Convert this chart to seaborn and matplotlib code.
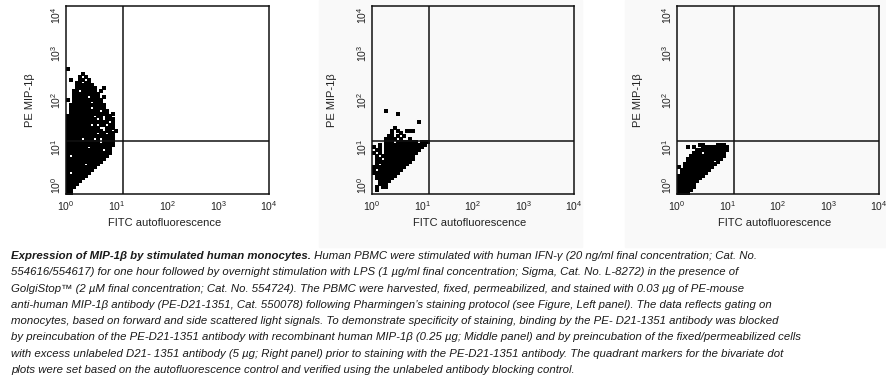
import pandas as pd
import seaborn as sns
import matplotlib.pyplot as plt
from matplotlib.patches import Rectangle

# dot plot occupancy: one char per 0.06 x 0.06 decade cell,
# first row = highest PE value, first column = 10^0 on the FITC axis
cell = 0.06

left_mask = [
    "#................",
    ".................",
    ".....#...........",
    "....#.#..........",
    ".#..##.#.........",
    "...##.##.........",
    "...######........",
    "...#######..#....",
    "..##.#####.#.....",
    "..#########......",
    "..#####.###.#....",
    "#.##########.....",
    "..######.###.....",
    ".############....",
    ".#######.####....",
    ".##########.##...",
    ".#############.#.",
    "#########.##.##..",
    "##########.#.###.",
    "##############.#.",
    "########.#.##.##.",
    "###########..###.",
    "############.##.#",
    "##########.##.##.",
    "################.",
    "#####.###.#.####.",
    "###########.####.",
    "################.",
    "#######.#######..",
    "############.##..",
    "###############..",
    "#.############...",
    "#############....",
    "############.....",
    "######.####......",
    "##########.......",
    "#########........",
    "#.######.........",
    "#######..........",
    "######...........",
    "#####............",
    "####.............",
    "###..............",
    "##...............",
    "##...............",
]

middle_mask = [
    "....#..............",
    "........#..........",
    "...................",
    "...................",
    "...............#...",
    "...................",
    ".......#...........",
    "......#.#..###.....",
    "......#..#.........",
    ".....##.#.#........",
    "....####.#..#......",
    "....###.#######.###",
    "..#.##############.",
    "#.#.#############..",
    ".##.############...",
    "#.#.###########....",
    ".#.###########.....",
    ".##.##########.....",
    ".############......",
    ".#.#########.......",
    "###########........",
    "#.########.........",
    "#########..........",
    ".#######...........",
    ".######............",
    "..####.............",
    "..###..............",
    ".#.##..............",
    ".#.................",
    "...................",
]

right_mask = [
    ".......##....###..",
    "...#.#..#########",
    "......###########",
    ".....###.#######.",
    "....############.",
    "...############..",
    "...#########.#...",
    "..###########....",
    "#.##########.....",
    ".##########......",
    ".#########.......",
    "#########........",
    "########.........",
    "#######..........",
    "######...........",
    "######...........",
    "#####............",
    "####.............",
]

gate = 10 ** 1.12  # quadrant marker, same on both axes
decades = [1, 10, 100, 1000, 10000]
decade_labels = [r'$\mathregular{10^{%d}}$' % i for i in range(5)]

x_label = 'FITC autofluorescence'
y_label = 'PE MIP-1β'

caption_bold = 'Expression of MIP-1β by stimulated human monocytes.'
caption_lines = [
    ' Human PBMC were stimulated with human IFN-γ (20 ng/ml final concentration; Cat. No.',
    '554616/554617) for one hour followed by overnight stimulation with LPS (1 µg/ml final concentration; Sigma, Cat. No. L-8272) in the presence of',
    'GolgiStop™ (2 µM final concentration; Cat. No. 554724). The PBMC were harvested, fixed, permeabilized, and stained with 0.03 µg of PE-mouse',
    'anti-human MIP-1β antibody (PE-D21-1351, Cat. 550078) following Pharmingen’s staining protocol (see Figure, Left panel). The data reflects gating on',
    'monocytes, based on forward and side scattered light signals. To demonstrate specificity of staining, binding by the PE- D21-1351 antibody was blocked',
    'by preincubation of the PE-D21-1351 antibody with recombinant human MIP-1β (0.25 µg; Middle panel) and by preincubation of the fixed/permeabilized cells',
    'with excess unlabeled D21- 1351 antibody (5 µg; Right panel) prior to staining with the PE-D21-1351 antibody. The quadrant markers for the bivariate dot',
    'plots were set based on the autofluorescence control and verified using the unlabeled antibody blocking control.',
]


def mask_to_events(mask):
    rows = []
    n = len(mask)
    for i, line in enumerate(mask):
        k = n - 1 - i
        for j, ch in enumerate(line):
            if ch == '#':
                rows.append({'fitc': 10 ** ((j + 0.5) * cell), 'pe': 10 ** ((k + 0.5) * cell)})
    return pd.DataFrame(rows)


sns.set_style('white')
plt.rcParams['font.family'] = ['Liberation Sans', 'DejaVu Sans']

W, H = 887, 381
fig = plt.figure(figsize=(W / 100, H / 100), dpi=100)

# the two right-hand plots sit on a faint grey backdrop in the original
for x0, x1 in [(319, 582), (625, 887)]:
    fig.patches.append(Rectangle((x0 / W, (H - 247) / H), (x1 - x0) / W, 247 / H,
                                 transform=fig.transFigure, color='#f9f9f9', zorder=-5))

panels = [
    (left_mask, 66, 203, -0.153),
    (middle_mask, 372, 202, -0.173),
    (right_mask, 677, 202, -0.168),
]

for mask, px, pw, ylab_x in panels:
    ax = fig.add_axes([px / W, (H - 194) / H, pw / W, 188 / H])
    ax.set_facecolor('none')
    ev = mask_to_events(mask)
    sns.scatterplot(data=ev, x='fitc', y='pe', marker='s', s=6.5, color='black',
                    linewidth=0, ax=ax, legend=False)
    ax.set_xscale('log')
    ax.set_yscale('log')
    ax.set_xlim(1, 10000)
    ax.set_ylim(1, 10000)
    ax.axvline(gate, color='#111111', lw=1.1)
    ax.axhline(gate, color='#111111', lw=1.1)
    ax.set_xticks(decades)
    ax.set_xticklabels(decade_labels, fontsize=7.5)
    ax.set_yticks(decades)
    ax.set_yticklabels(decade_labels, fontsize=7.5, rotation=90, va='center')
    ax.get_yticklabels()[-1].set_va('top')
    ax.get_yticklabels()[0].set_va('bottom')
    ax.minorticks_off()
    ax.tick_params(length=0, pad=2.5, colors='#222222')
    ax.tick_params(axis='x', pad=3.5)
    for s in ax.spines.values():
        s.set_color('#111111')
        s.set_linewidth(1.1)
    ax.set_xlabel(x_label, fontsize=8, color='#222222')
    ax.set_ylabel(y_label, fontsize=8, color='#222222')
    ax.xaxis.set_label_coords(0.485, -0.128)
    ax.yaxis.set_label_coords(ylab_x, 0.5)

# caption, first sentence in bold
cap_x = 11 / W
line_y = [(H - (256 + 16.3 * i)) / H for i in range(len(caption_lines))]
cap_kw = dict(fontsize=8.2, style='italic', color='#1a1a1a', va='center')
bold = fig.text(cap_x, line_y[0], caption_bold, weight='bold', **cap_kw)
fig.canvas.draw()
bb = bold.get_window_extent(fig.canvas.get_renderer())
fig.text(bb.x1 / W, line_y[0], caption_lines[0], **cap_kw)
for y, line in zip(line_y[1:], caption_lines[1:]):
    fig.text(cap_x, y, line, **cap_kw)

fig.savefig('out.png', dpi=100)
